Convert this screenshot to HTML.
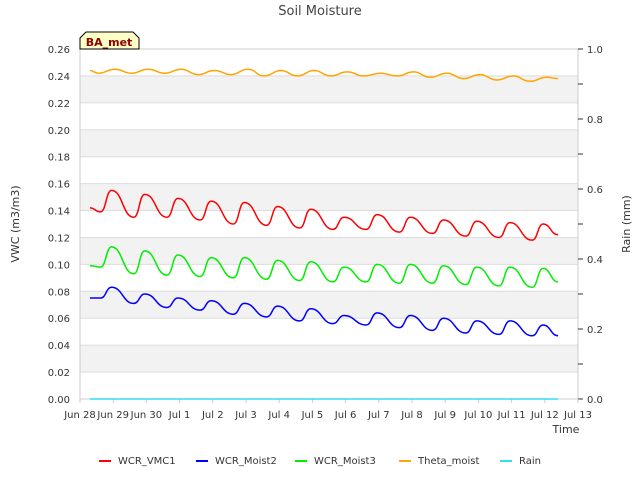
<!DOCTYPE html>
<html><head><meta charset="utf-8"><style>
body{margin:0;background:#fff;font-family:"Liberation Sans","DejaVu Sans",sans-serif;}
svg text{font-family:"DejaVu Sans","Liberation Sans",sans-serif;}
</style></head><body>
<svg id="chart" width="640" height="480" xmlns="http://www.w3.org/2000/svg">
<rect x="0" y="0" width="640" height="480" fill="#fff"/>
<text x="320" y="15" font-size="13" fill="#444" text-anchor="middle">Soil Moisture</text>
<g id="grid"></g>
<g id="axes"></g>
<g id="series"></g>
<text transform="translate(19,224) rotate(-90)" font-size="11" fill="#333" text-anchor="middle">VWC (m3/m3)</text>
<text transform="translate(630,224) rotate(-90)" font-size="11" fill="#333" text-anchor="middle">Rain (mm)</text>
<text x="566" y="433" font-size="11" fill="#333" text-anchor="middle">Time</text>
<g>
<path d="M80,49 L80,38 L86,32 L133,32 L139,38 L139,49 Z" fill="#ffffc8" stroke="#000" stroke-width="1"/>
<text x="109" y="46" font-size="11" font-weight="bold" fill="#8b0000" text-anchor="middle">BA_met</text>
</g>
<g id="legend"></g>
</svg>
<script>
const categories = ["Jun 28","Jun 29","Jun 30","Jul 1","Jul 2","Jul 3","Jul 4","Jul 5","Jul 6","Jul 7","Jul 8","Jul 9","Jul 10","Jul 11","Jul 12","Jul 13"];
const yTicks = [0,0.02,0.04,0.06,0.08,0.10,0.12,0.14,0.16,0.18,0.20,0.22,0.24,0.26];
const y2Ticks = [0,0.2,0.4,0.6,0.8,1.0];
// alternating trough/peak values per series (first = start, last = end)
const vmc1 = [0.142,0.139,0.155,0.135,0.152,0.135,0.149,0.133,0.147,0.130,0.146,0.129,0.143,0.127,0.141,0.126,0.135,0.126,0.137,0.124,0.135,0.123,0.133,0.121,0.132,0.120,0.131,0.118,0.130,0.122];
const moist2 = [0.075,0.075,0.083,0.071,0.078,0.068,0.075,0.066,0.073,0.063,0.071,0.061,0.069,0.058,0.067,0.056,0.062,0.055,0.064,0.053,0.062,0.051,0.060,0.049,0.058,0.048,0.058,0.047,0.055,0.047];
const moist3 = [0.099,0.098,0.113,0.093,0.110,0.092,0.107,0.091,0.105,0.090,0.105,0.089,0.103,0.088,0.102,0.087,0.098,0.087,0.100,0.086,0.100,0.086,0.099,0.085,0.098,0.084,0.098,0.083,0.097,0.087];
const theta = [0.244,0.242,0.245,0.242,0.245,0.242,0.245,0.241,0.244,0.241,0.245,0.240,0.244,0.240,0.244,0.240,0.243,0.240,0.242,0.240,0.243,0.239,0.242,0.238,0.241,0.237,0.240,0.236,0.239,0.238];
const rain = [0,0];
const rainDays = [0.3,14.4];

const X0=80,X1=578,Y0=399,Y1=49;
const x = d => X0 + d*(X1-X0)/15;
const y = v => Y0 - v*(Y0-Y1)/0.26;
const y2 = v => Y0 - v*(Y0-Y1)/1.0;
const NS="http://www.w3.org/2000/svg";
function mk(tag,attrs,parent){const e=document.createElementNS(NS,tag);for(const k in attrs)e.setAttribute(k,attrs[k]);parent.appendChild(e);return e;}
const grid=document.getElementById('grid'),axes=document.getElementById('axes'),ser=document.getElementById('series'),leg=document.getElementById('legend');
for(let i=1;i<yTicks.length-1;i+=2){
  const r=mk('rect',{x:X0,y:y(yTicks[i+1]),width:X1-X0,height:y(yTicks[i])-y(yTicks[i+1]),fill:'#f2f2f2'},grid);
  
  
}
yTicks.forEach(v=>{
  const l=mk('line',{x1:X0,x2:X1,y1:y(v),y2:y(v),stroke:'#ddd','stroke-width':1},grid);
  
  
  const t=mk('text',{x:X0-10,y:y(v)+4,'font-size':10,fill:'#333','text-anchor':'end'},axes);
  t.textContent=v.toFixed(2);
  
  
});
mk('rect',{x:X0,y:Y1,width:X1-X0,height:Y0-Y1,fill:'none',stroke:'#ccc'},axes);
for(let v=0;v<=1.0001;v+=0.1){
  mk('line',{x1:X1,x2:X1+5,y1:y2(v),y2:y2(v),stroke:'#333'},axes);
}
y2Ticks.forEach(v=>{
  const t=mk('text',{x:X1+9,y:y2(v)+4,'font-size':10,fill:'#333'},axes);
  t.textContent=v.toFixed(1);
  
  
});
categories.forEach((c,i)=>{
  mk('line',{x1:x(i),x2:x(i),y1:Y0,y2:Y0+4,stroke:'#ccc'},axes);
  const t=mk('text',{x:x(i),y:Y0+19,'font-size':10,fill:'#333','text-anchor':'middle'},axes);
  t.textContent=c;
  
  
});
function times(vals,start,troughOff,peakOff,end){
  const ts=[start];
  for(let i=1;i<vals.length-1;i++){const k=Math.floor((i-1)/2);ts.push(k+(i%2===1?troughOff:peakOff));}
  ts.push(end);return ts;
}
function drawSeries(vals,ts,color,name,scale){
  const pts=vals.map((v,i)=>[x(ts[i]),scale(v)]);
  let d='M'+pts[0][0]+','+pts[0][1];
  for(let i=1;i<pts.length;i++){const p=pts[i-1],q=pts[i];const mx=(q[0]-p[0])/2;d+=` C${p[0]+mx},${p[1]} ${q[0]-mx},${q[1]} ${q[0]},${q[1]}`;}
  const path=mk('path',{d:d,fill:'none',stroke:color,'stroke-width':1.5},ser);
  
  
}
drawSeries(rain,rainDays,'#33ddee','series-rain',y2);
drawSeries(theta,times(theta,0.3,0.55,1.05,14.4),'orange','series-theta-moist',y);
drawSeries(moist2,times(moist2,0.3,0.62,0.95,14.4),'blue','series-wcr-moist2',y);
drawSeries(moist3,times(moist3,0.3,0.62,0.95,14.4),'#00ee00','series-wcr-moist3',y);
drawSeries(vmc1,times(vmc1,0.3,0.62,0.95,14.4),'red','series-wcr-vmc1',y);
const legendItems=[["WCR_VMC1","red",99],["WCR_Moist2","blue",196],["WCR_Moist3","#00ee00",295],["Theta_moist","orange",399],["Rain","#33ddee",500]];
legendItems.forEach(([n,c,lx])=>{
  const g=mk('g',{},leg);
  
  
  mk('line',{x1:lx,x2:lx+12,y1:461,y2:461,stroke:c,'stroke-width':2},g);
  const t=mk('text',{x:lx+19,y:464,'font-size':10,fill:'#333'},g);
  t.textContent=n;
});
</script>
</body></html>
